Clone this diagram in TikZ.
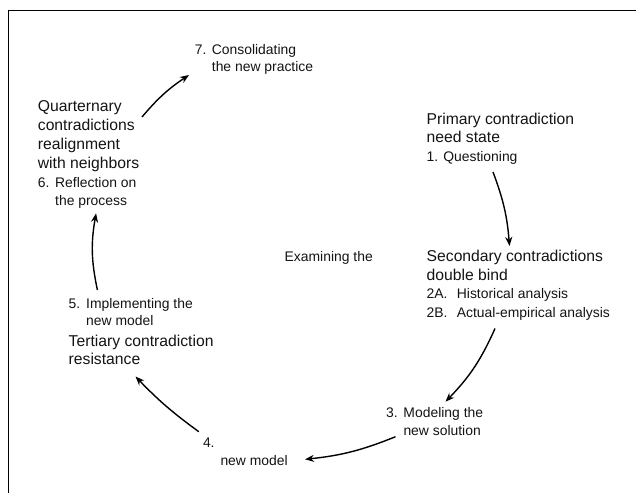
\documentclass[tikz,border=0pt]{standalone}
\usepackage{fontspec}
\setmainfont{Liberation Sans}
\usetikzlibrary{arrows.meta}
\begin{document}
\begin{tikzpicture}[x=1pt,y=-1pt,
  big/.style={font=\fontsize{15.7}{18}\selectfont,anchor=base west,inner sep=0,text=black!92},
  sml/.style={font=\fontsize{13.9}{17}\selectfont,anchor=base west,inner sep=0,text=black!92},
  cyc/.style={line width=1.4pt,black,-{Stealth[length=9pt,width=7pt]}},
  frame/.style={line width=1.8pt,black}]
\useasboundingbox (0,0) rectangle (636,492);
\fill[white] (0,0) rectangle (636,492);
\draw[frame] (8.5,493) -- (8.5,10.5) -- (637,10.5);
% step 7
\node[sml] (t7a) at (194.7,54.5) {\makebox[17pt][l]{7.}Consolidating};
\node[sml] (t7b) at (211.7,72) {the new practice};
% quarternary / step 6
\node[big] (q1) at (37.7,111.7) {Quarternary};
\node[big] (q2) at (37.7,130.3) {contradictions};
\node[big] (q3) at (37.7,149) {realignment};
\node[big] (q4) at (37.7,168.3) {with neighbors};
\node[sml] (t6a) at (37.7,187.3) {\makebox[17.3pt][l]{6.}Reflection on};
\node[sml] (t6b) at (55,205.7) {the process};
% primary / step 1
\node[big] (p1) at (426.5,124.3) {Primary contradiction};
\node[big] (p2) at (426.5,142.8) {need state};
\node[sml] (t1) at (426.5,161.7) {\makebox[16.6pt][l]{1.}Questioning};
% secondary / step 2
\node[big] (s1) at (426.5,261.7) {Secondary contradictions};
\node[big] (s2) at (426.5,280.2) {double bind};
\node[sml] (t2a) at (426.5,298.7) {\makebox[30.2pt][l]{2A.}Historical analysis};
\node[sml] (t2b) at (426.5,317.3) {\makebox[30.2pt][l]{2B.}Actual-empirical analysis};
% center
\node[sml] (ex) at (284.5,261.7) {Examining the};
% step 5 / tertiary
\node[sml] (t5a) at (68.5,308) {\makebox[17.5pt][l]{5.}Implementing the};
\node[sml] (t5b) at (86,325.6) {new model};
\node[big] (r1) at (68.5,346) {Tertiary contradiction};
\node[big] (r2) at (68.5,364.7) {resistance};
% step 3
\node[sml] (t3a) at (386,417.5) {\makebox[17.3pt][l]{3.}Modeling the};
\node[sml] (t3b) at (403.3,435.7) {new solution};
% step 4
\node[sml] (t4a) at (202.8,447.7) {4.};
\node[sml] (t4b) at (220.3,465.8) {new model};
% arrow end points
\coordinate (a1s) at (142,117);   \coordinate (a1e) at (189,75);
\coordinate (a2s) at (493,172);   \coordinate (a2e) at (509.5,246);
\coordinate (a3s) at (495,328.5); \coordinate (a3e) at (445.5,401.7);
\coordinate (a4s) at (395.5,436.7); \coordinate (a4e) at (305,459.3);
\coordinate (a5s) at (198.8,431.7); \coordinate (a5e) at (135.5,376.5);
\coordinate (a6s) at (97.4,290);  \coordinate (a6e) at (96.1,213.3);
\draw[cyc] (a1s) to[bend left=8] (a1e);
\draw[cyc] (a2s) to[bend left=8] (a2e);
\draw[cyc] (a3s) to[bend left=10] (a3e);
\draw[cyc] (a4s) to[bend left=8] (a4e);
\draw[cyc] (a5s) to[bend left=5] (a5e);
\draw[cyc] (a6s) to[bend left=11] (a6e);
\end{tikzpicture}
\end{document}
